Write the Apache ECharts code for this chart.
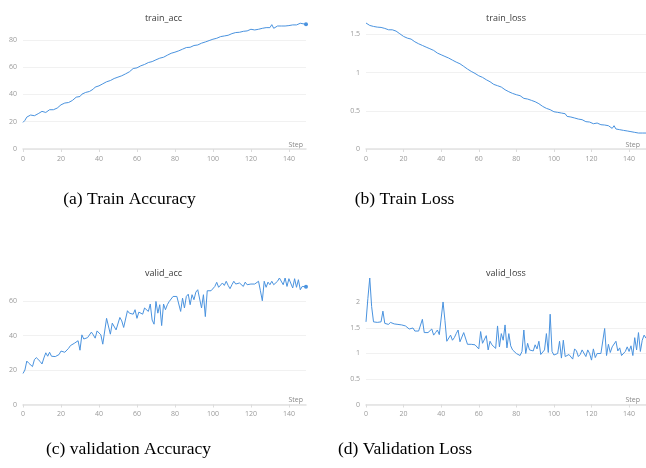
<!DOCTYPE html>
<html>
<head>
<meta charset="utf-8">
<script src="https://cdn.jsdelivr.net/npm/echarts@6/dist/echarts.min.js"></script>
<style>
html,body{margin:0;padding:0;background:#fff;overflow:hidden;}
#c{width:646px;height:468px;}
</style>
</head>
<body>
<div id="c"></div>
<script>
// ---- data ----
const trainAcc = [19.5,21,23.4,24.4,24.9,24.9,24.4,24.9,25.9,26.3,27.6,26.8,26.8,27,28.8,28.8,28.8,29.3,30,31.2,
32.4,32.4,33.7,34.1,34.1,35.4,35.6,37,38,38.3,38.5,40.2,41,41.5,41.7,42.2,43.4,43.9,45.4,45.9,
46.3,47,47.8,48.8,49.3,49.5,50.2,51.2,51.7,52.2,52.7,53.2,53.7,54.1,55.1,56.1,56.6,57.6,59,59.5,
59.5,60.5,61,61.5,62,62.9,63.4,63.9,64.1,64.9,65.4,66.3,66.6,66.8,67.3,68.3,68.8,69.5,70.2,70.7,
71,71.2,72,72.7,73.2,73.7,74.4,74.6,74.6,75.1,75.9,76.1,76.3,76.8,77.6,78,78.5,79,79.5,80,
80.5,81,81.2,80.5,82.4,82.9,82.9,83.2,83.4,84.4,84.6,84.9,85.4,85.4,85.6,85.6,86.3,86.6,86.6,86.1,
87.8,86.6,87.3,88,87.8,88.3,88.5,88.8,89,89.3,89,91.2,88.5,89.8,90.2,90.7,90.2,89.8,90.2,91,
90.5,91.2,91,91.7,91,91.7,92.2,92.4,91.7,91.5];

const trainLoss = [1.65,1.627,1.618,1.614,1.605,1.596,1.596,1.596,1.592,1.587,1.579,1.566,1.561,1.566,1.561,1.553,1.544,1.526,1.509,1.487,
1.474,1.465,1.452,1.443,1.439,1.422,1.404,1.387,1.378,1.369,1.356,1.343,1.334,1.326,1.313,1.3,1.291,1.273,1.256,1.265,
1.234,1.225,1.212,1.204,1.191,1.177,1.164,1.151,1.138,1.125,1.116,1.103,1.082,1.064,1.047,1.029,1.016,1.003,0.99,0.973,
0.959,0.951,0.938,0.925,0.907,0.894,0.881,0.863,0.846,0.837,0.829,0.824,0.811,0.798,0.776,0.768,0.75,0.737,0.728,0.72,
0.711,0.706,0.698,0.68,0.663,0.672,0.654,0.645,0.637,0.628,0.619,0.611,0.593,0.576,0.558,0.567,0.532,0.558,0.515,0.536,
0.488,0.497,0.48,0.462,0.471,0.454,0.462,0.427,0.436,0.419,0.41,0.406,0.397,0.392,0.392,0.384,0.375,0.358,0.358,0.353,
0.366,0.331,0.349,0.34,0.323,0.318,0.314,0.314,0.31,0.305,0.288,0.27,0.305,0.262,0.279,0.253,0.27,0.244,0.262,0.236,
0.253,0.227,0.244,0.218,0.236,0.209,0.222,0.209,0.227,0.209];

const validAcc = [18,20,25.2,24,23.7,22,26,27.2,26.8,25,23.5,27,30,28,30.3,28,28,27.8,28.2,29,
31,31.6,30.3,31,32.6,34.2,33.8,35.5,35,37,31.5,40.4,38,38.5,38.8,38,42,40.4,38.5,42.7,
43.3,40.4,35,34.2,50,49,40.8,47.2,48,43.3,43.9,50.5,48.5,44.7,45.2,54.4,53,53.6,52.4,55,
50,53.6,53,52.4,56,55.5,54,58.3,49,46.6,59.8,53,57.9,45.8,58.3,55,57.9,59.8,60.8,62.7,
62.1,62.7,62.1,54,61.7,56,62.7,64,57.9,63.7,60.8,65.2,66.6,66.6,56,63.7,51,66,66.6,66,
65.6,68.5,70.9,68,67.6,70.5,69.1,71.5,69.1,67.2,69.5,71.5,69.9,69.1,70.5,69.5,68.5,71,69.5,70.5,
69.9,70.7,69.9,69.1,71.5,66,60.2,71.5,68,71,69.5,71.5,69.5,69.9,71.5,73.4,73,69.5,73.4,68.5,
73,73.4,67.6,73,68,72.4,66.6,68.5,69,68.3];

const validLoss = [1.62,2.08,2.48,1.92,1.62,1.65,1.61,1.59,1.62,1.83,1.59,1.62,1.57,1.61,1.6,1.58,1.57,1.57,1.57,1.56,
1.54,1.54,1.52,1.48,1.46,1.5,1.44,1.44,1.44,1.46,1.67,1.41,1.39,1.41,1.43,1.48,1.36,1.41,1.46,1.37,
1.35,2.01,1.65,1.24,1.23,1.36,1.26,1.31,1.39,1.46,1.23,1.26,1.41,1.39,1.18,1.17,1.18,1.18,1.17,1.2,
1.09,1.43,1.2,1.22,1.35,1.07,1.24,1.17,1.2,1.1,1.54,1.13,1.39,1.26,1.56,1.11,1.39,1.15,1.07,1.04,
1.0,0.97,0.96,1.04,1.46,1.0,1.2,1.07,1.09,1.05,1.17,1.09,1.24,0.98,1.0,1.07,1.39,1.02,1.77,1.04,
0.97,0.98,1.0,1.24,0.91,1.26,0.94,0.96,0.98,1.0,0.89,1.09,1.05,0.94,0.98,1.07,1.1,0.94,1.07,1.0,
0.87,1.09,0.92,1.0,0.97,1.0,1.02,1.49,0.96,1.18,1.02,1.13,1.1,1.24,1.05,1.11,0.96,0.97,1.04,1.13,
1.04,1.15,0.96,1.31,1.07,1.41,1.04,1.26,1.36,1.3];

const panelTitles = ['train_acc', 'train_loss', 'valid_acc', 'valid_loss'];
const captions = ['(a) Train Accuracy', '(b) Train Loss', '(c) validation Accuracy', '(d) Validation Loss'];
const xTickStep = 20;
const yTickSteps = [20, 0.5, 20, 0.5];

// ---- chart ----
const chart = echarts.init(document.getElementById('c'), null, {renderer: 'canvas'});
const LINE = '#4a93df';
const LABEL = '#9a9a9a';
const FONT = '"Open Sans", "Noto Sans", sans-serif';

const seriesData = [trainAcc, trainLoss, validAcc, validLoss];
const grids = [
  {left: 23, top: 23, width: 283, height: 126},
  {left: 366, top: 23, width: 286, height: 126},
  {left: 23, top: 278, width: 283, height: 126.5},
  {left: 366, top: 278, width: 286, height: 126.5}
];
const stepGap = [-3, -6, -3, -6];
const endDot = [true, false, true, false];

function pairs(arr) { return arr.map((v, i) => [i, v]); }

const option = {
  animation: false,
  backgroundColor: '#fff',
  grid: grids.map(g => Object.assign({containLabel: false}, g)),
  title: panelTitles.map((t, i) => ({
    text: t,
    left: grids[i].left + grids[i].width / 2 - (i % 2 === 1 ? 8 : 6),
    top: i < 2 ? 8.5 : 263.5,
    textAlign: 'center',
    textStyle: {fontFamily: FONT, fontSize: 9, fontWeight: 'normal', color: '#3a3a3a'}
  })),
  xAxis: seriesData.map((d, i) => ({
    type: 'value', gridIndex: i, min: 0, max: d.length - 1, interval: xTickStep,
    name: 'Step', nameLocation: 'end', nameGap: stepGap[i],
    nameTextStyle: {fontFamily: FONT, fontSize: 7, color: '#888', align: 'right', verticalAlign: 'bottom', padding: [0, 0, 1, 0]},
    axisLine: {show: true, lineStyle: {color: '#e2e2e2', width: 1.5}},
    axisTick: {show: true, length: 3, lineStyle: {color: '#dcdcdc'}},
    axisLabel: {fontFamily: FONT, fontSize: 7, color: LABEL, margin: 6, showMaxLabel: false},
    splitLine: {show: false}
  })),
  yAxis: seriesData.map((d, i) => ({
    type: 'value', gridIndex: i, min: 0, max: Math.max.apply(null, d), interval: yTickSteps[i],
    axisLine: {show: false}, axisTick: {show: false},
    axisLabel: {fontFamily: FONT, fontSize: 7, color: LABEL, margin: 6, showMaxLabel: false},
    splitLine: {show: true, showMaxLine: false, lineStyle: {color: '#f1f1f1', width: 1}}
  })),
  series: seriesData.map((d, i) => ({
    type: 'line', xAxisIndex: i, yAxisIndex: i,
    data: pairs(d),
    showSymbol: endDot[i],
    symbol: 'circle',
    symbolSize: (val, p) => (endDot[i] && p.dataIndex === d.length - 1 ? 4 : 0),
    itemStyle: {color: LINE},
    lineStyle: {color: LINE, width: 1},
    clip: false
  })),
  graphic: captions.map((c, i) => ({
    type: 'text',
    x: [129.5, 404.5, 128.5, 405][i],
    y: [199, 199, 449, 449][i],
    style: {
      text: c, fill: '#000', fontFamily: '"Liberation Serif", "Times New Roman", serif',
      fontSize: 17.5, textAlign: 'center', textVerticalAlign: 'middle'
    }
  }))
};
chart.setOption(option);
</script>
</body>
</html>
